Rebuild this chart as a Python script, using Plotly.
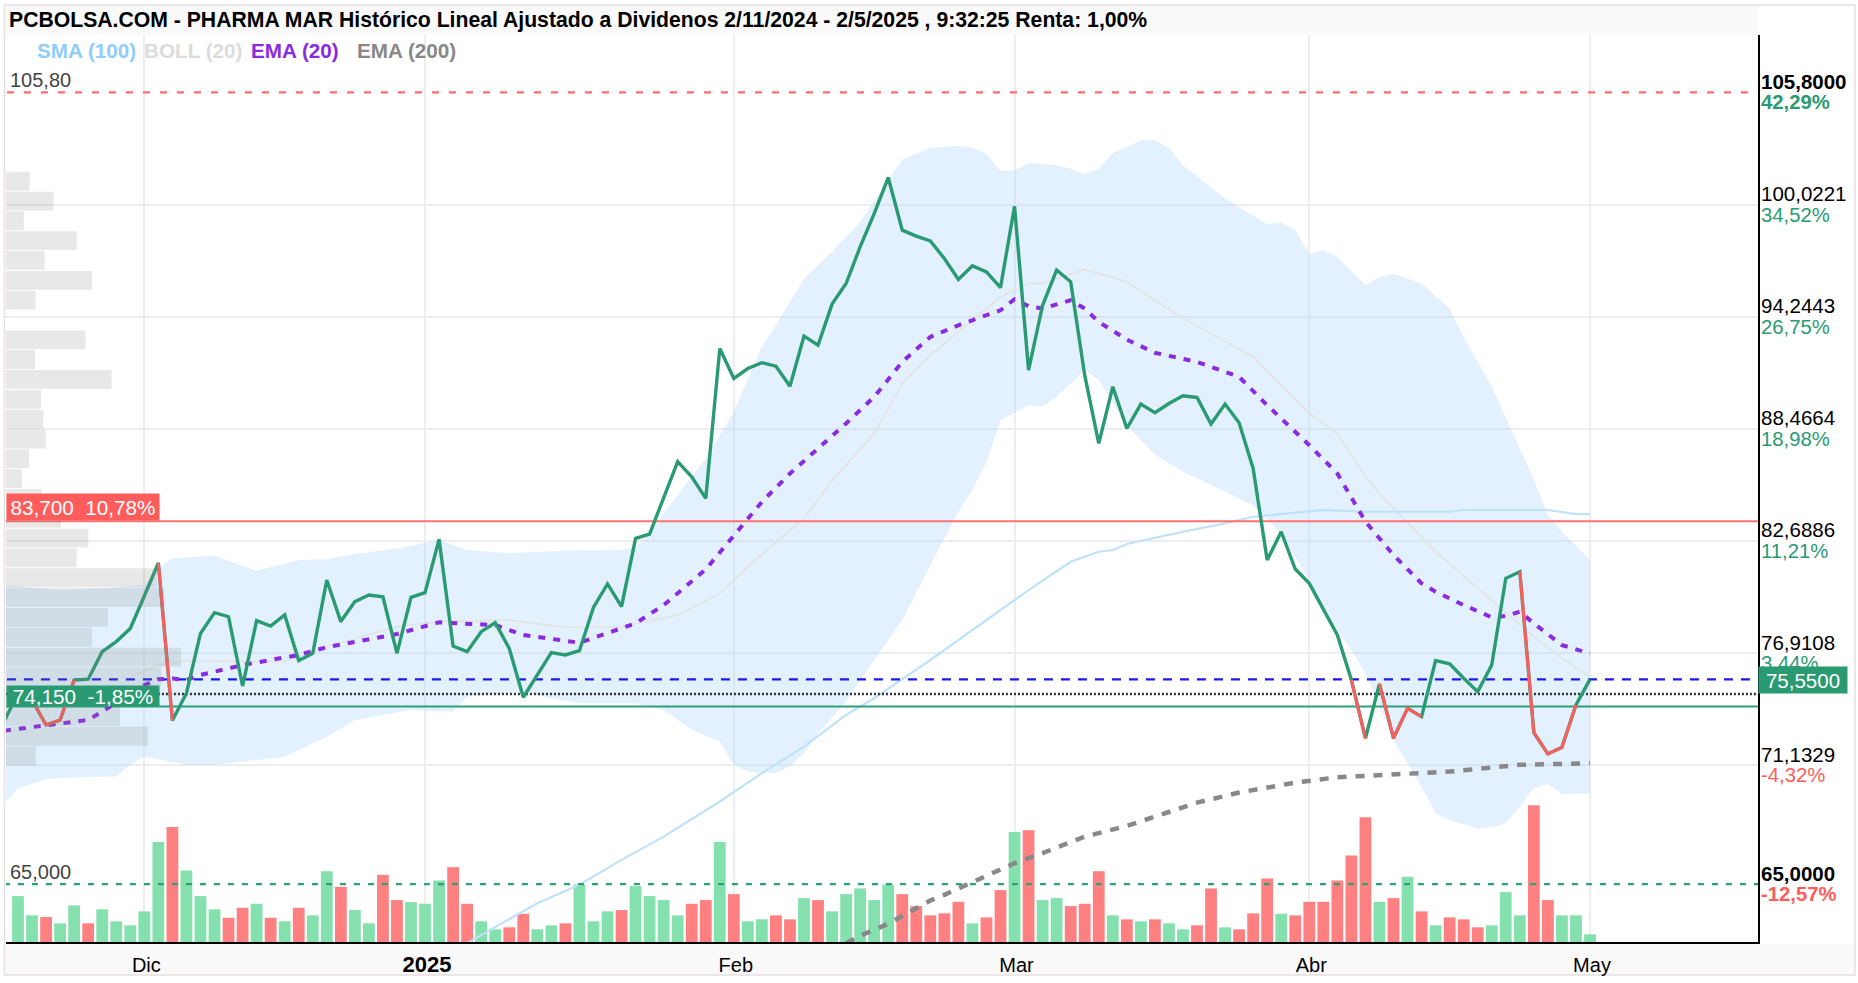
import plotly.graph_objects as go

FONT = "Liberation Sans"
GREEN = "#2a9a72"
RED = "#ff5c5c"

title_text = "PCBOLSA.COM - PHARMA MAR Histórico Lineal Ajustado a Dividenos 2/11/2024 - 2/5/2025 , 9:32:25 Renta: 1,00%"

month_pos = [9, 29, 51, 71, 92, 112]
month_labels = ["Dic", "<b><span style='font-size:22px'>2025</span></b>", "Feb", "Mar", "Abr", "May"]

# sessions are numbered -1 .. 112
price = [73.38, 74.83, 74.49, 73.20, 73.46, 75.52, 75.56, 76.98, 77.50, 78.18, 79.85, 81.56, 73.43, 74.84, 77.92,
         78.99, 78.78, 75.21, 78.58, 78.30, 78.87, 76.52, 76.89, 80.67, 78.53, 79.56, 79.90, 79.81, 76.89, 79.78,
         80.02, 82.77, 77.27, 76.98, 78.01, 78.47, 77.15, 74.63, 75.78, 76.93, 76.81, 77.03, 79.26, 80.47, 79.30,
         82.82, 83.04, 84.88, 86.77, 85.99, 84.88, 92.60, 91.06, 91.57, 91.87, 91.69, 90.66, 93.24, 92.77, 94.89,
         95.95, 97.84, 99.55, 101.41, 98.70, 98.39, 98.15, 97.24, 96.16, 96.86, 96.55, 95.74, 99.93, 91.49, 94.83,
         96.64, 96.04, 91.23, 87.71, 90.63, 88.48, 89.74, 89.29, 89.77, 90.17, 90.08, 88.71, 89.74, 88.78, 86.42,
         81.70, 83.16, 81.24, 80.50, 79.21, 77.84, 75.52, 72.52, 75.32, 72.52, 74.06, 73.63, 76.52, 76.35, 75.61,
         74.92, 76.29, 80.76, 81.10, 72.81, 71.71, 72.05, 74.23, 75.55]
sessions = list(range(-1, 113))
falling_runs = [(1, 4), (10, 11), (95, 96), (97, 100), (107, 111)]

volume = [46, 26.7, 25, 18.7, 36.7, 18.7, 32.7, 20.7, 16.7, 30.7, 100.3, 115.3, 71.7, 46, 32.7, 24.3, 34.3, 38.3, 24.3,
          20.7, 34.3, 26.7, 71, 55.3, 32, 18.7, 67.3, 42, 40, 38.3, 61.7, 75, 38.3, 20.7, 12.7, 14.7, 28.3, 12.7, 16.7,
          18.7, 57.7, 20.7, 30.7, 32, 56, 46, 42, 26.7, 38.3, 42, 100.3, 48, 20.7, 22.7, 26.7, 22.7, 44, 42, 30.7, 48,
          53.7, 42, 57.7, 48, 36, 26.7, 28.7, 40.3, 18.7, 24.7, 52, 110.3, 112, 42, 44, 36, 38.3, 71, 26.7, 22.7, 20.7,
          22.7, 18.7, 12.7, 16.7, 53.7, 14.7, 12.7, 28.7, 63.7, 28.3, 26.7, 40.3, 40.3, 61.7, 86.7, 125, 40.3, 44, 65.3,
          30.7, 16.7, 24.7, 22.7, 14.7, 16.7, 50, 26.7, 137, 42, 26.7, 26.7, 7.7]
volume_side = [
    "g","g","r","g","g","r","g","g","g","g","g","r","g","g","g","r","r","g","r","g","r","g","g","r","g","g",
    "r","r","g","g","g","r","r","g","g","r","r","g","g","r","g","g","g","r","g","g","g","g","r","r","g","r",
    "g","g","r","r","g","r","g","g","g","g","g","r","r","r","r","r","g","r","r","g","r","g","g","r","r","r",
    "g","r","g","r","g","g","r","r","g","r","r","r","g","r","r","r","r","r","r","g","r","g","r","g","r","r",
    "r","g","g","g","r","r","g","g","g"]

upper_x = [-1, 3, 6, 9, 10, 11, 14, 17, 20, 22, 24, 27, 30, 32, 35, 39, 43, 44, 45, 46, 47, 49, 51, 53, 54, 56, 58, 60,
           62, 63, 65, 67, 68, 69, 70, 71, 72, 74, 75, 76, 77, 78, 79, 80, 81, 82, 83, 86, 89, 90, 91, 92, 93, 94, 96,
           97, 98, 100, 102, 103, 105, 106, 107, 108, 109, 110, 112]
upper_y = [80.41, 80.15, 80.24, 80.41, 81.27, 81.79, 81.92, 81.15, 81.70, 81.74, 82.01, 82.30, 82.73, 82.22, 82.05,
           82.18, 82.22, 82.39, 83.07, 84.10, 85.05, 86.94, 89.34, 92.69, 93.80, 96.20, 97.58, 99.12, 101.27, 102.33,
           102.95, 103.04, 102.95, 102.61, 101.75, 101.79, 102.16, 102.04, 101.87, 101.58, 101.87, 102.68, 102.99,
           103.33, 103.33, 102.95, 102.04, 100.33, 99.00, 99.09, 98.69, 97.49, 97.66, 97.32, 95.86, 96.29, 96.46,
           95.95, 94.66, 93.20, 90.63, 89.08, 87.45, 85.82, 84.02, 83.16, 81.70]
lower_x = [-1, 0, 2, 4, 7, 8, 9, 12, 14, 17, 19, 22, 24, 28, 31, 32, 36, 38, 40, 44, 46, 48, 50, 51, 52, 54, 55, 56, 57,
           59, 61, 63, 65, 67, 68, 69, 70, 71, 72, 73, 74, 75, 76, 77, 79, 81, 83, 86, 88, 90, 92, 94, 95, 96, 98, 100,
           101, 102, 104, 105, 106, 107, 108, 109, 110, 112]
lower_y = [69.09, 69.95, 70.41, 70.51, 70.55, 71.15, 71.57, 71.15, 71.15, 71.40, 71.57, 72.60, 73.46, 73.98, 73.89,
           74.66, 74.92, 74.58, 74.32, 74.32, 73.98, 72.95, 72.35, 71.15, 70.80, 70.72, 71.06, 71.75, 72.78, 74.41,
           76.55, 78.61, 81.45, 84.19, 85.31, 86.77, 88.91, 89.29, 89.68, 89.63, 90.11, 90.80, 91.49, 90.97, 88.65,
           87.11, 86.25, 85.22, 84.53, 83.08, 80.67, 78.10, 77.07, 75.87, 72.43, 70.03, 68.66, 68.28, 67.88, 67.93,
           68.14, 69.00, 69.94, 70.17, 69.65, 69.69]
boll_x = [8, 10, 12, 15, 19, 22, 27, 30, 35, 39, 43, 47, 50, 52, 56, 58, 61, 63, 65, 68, 70, 72, 73, 76, 79, 83, 88, 92,
          94, 96, 97, 101, 105, 108, 110, 112]
boll_y = [75.69, 76.29, 76.52, 76.47, 76.47, 77.24, 78.27, 78.53, 78.61, 78.23, 78.27, 78.87, 79.98, 81.36, 83.85,
          85.79, 88.22, 90.80, 92.26, 94.06, 95.26, 95.95, 95.95, 96.67, 96.04, 94.15, 92.17, 89.25, 88.22, 85.99,
          85.13, 82.13, 79.64, 77.75, 76.64, 75.69]
ema20_x = [-1, 2, 5, 6, 8, 9, 10, 11, 12, 13, 16, 20, 22, 27, 30, 34, 36, 40, 44, 46, 49, 51, 53, 55, 59, 61, 63, 65, 67,
           69, 70, 71, 72, 73, 75, 76, 77, 79, 81, 84, 87, 89, 92, 94, 95, 96, 98, 100, 101, 103, 105, 106, 107, 108,
           110, 111, 112]
ema20_y = [72.91, 73.20, 73.46, 73.89, 74.84, 75.26, 75.56, 75.60, 75.52, 75.78, 76.29, 76.81, 77.21, 77.89, 78.49,
           78.35, 77.84, 77.44, 78.44, 79.38, 81.22, 82.99, 84.70, 86.16, 88.74, 90.11, 91.91, 93.20, 93.80, 94.32,
           94.57, 95.14, 94.78, 94.66, 95.09, 94.66, 93.97, 93.06, 92.38, 91.91, 91.14, 89.68, 87.62, 86.16, 84.96,
           83.68, 81.96, 80.50, 80.07, 79.38, 78.75, 78.82, 79.04, 78.44, 77.32, 77.10, 76.89]
sma100_x = [32, 34, 37, 40, 43, 46, 50, 53, 56, 59, 61, 65, 68, 72, 75, 77, 78, 79, 83, 86, 88, 90, 93, 96, 102, 103, 109,
            111, 112]
sma100_y = [61.96, 62.79, 64.02, 64.97, 66.25, 67.45, 69.26, 70.72, 72.09, 73.72, 74.58, 76.55, 78.11, 80.15, 81.61,
            82.13, 82.22, 82.53, 83.16, 83.59, 83.93, 84.07, 84.28, 84.19, 84.19, 84.28, 84.28, 84.07, 84.07]
ema200_x = [59, 60, 62, 65, 66, 69, 71, 73, 76, 79, 82, 84, 87, 91, 94, 98, 102, 107, 112]
ema200_y = [61.96, 62.34, 62.96, 64.16, 64.45, 65.40, 66.08, 66.60, 67.45, 68.00, 68.69, 69.20, 69.72, 70.23, 70.51,
            70.63, 70.80, 71.15, 71.23]

profile_levels = [101.22, 100.20, 99.18, 98.16, 97.14, 96.11, 95.09, 94.07, 93.05, 92.03, 91.01, 89.98, 88.96, 87.94,
                  86.92, 85.90, 84.88, 83.85, 82.83, 81.81, 80.79, 79.77, 78.75, 77.73, 76.70, 75.68, 74.66, 73.64,
                  72.62, 71.60]
profile_size = [23.7, 47.5, 17.8, 70.6, 38.6, 86, 29.7, 0, 79.5, 29, 105.6, 35, 37.4, 39.7, 23, 16, 35.6, 55, 82.4, 70.6,
                150.7, 158.4, 102, 86, 175, 155.4, 84, 113.9, 142.3, 29.7]

grid_prices = [100.0221, 94.2443, 88.4664, 82.6886, 76.9108, 71.1329]
axis_labels = [
    (105.80, "<b>105,8000</b>", "<b>42,29%</b>", GREEN),
    (100.0221, "100,0221", "34,52%", GREEN),
    (94.2443, "94,2443", "26,75%", GREEN),
    (88.4664, "88,4664", "18,98%", GREEN),
    (82.6886, "82,6886", "11,21%", GREEN),
    (76.9108, "76,9108", "3,44%", GREEN),
    (71.1329, "71,1329", "-4,32%", RED),
    (65.00, "<b>65,0000</b>", "<b>-12,57%</b>", RED),
]
level_upper_dash = 105.80
level_resistance = 83.70
level_last = 75.55
level_prev = 74.80
level_support = 74.15
level_lower_dash = 65.00

fig = go.Figure()

# volume, on the lower axis
fig.add_trace(go.Bar(x=sessions[1:], y=volume, width=0.84, yaxis="y", xaxis="x",
                     marker=dict(color=["#84e1ae" if s == "g" else "#ff8080" for s in volume_side], line_width=0)))

# Bollinger envelope
fig.add_trace(go.Scatter(x=upper_x + lower_x[::-1], y=upper_y + lower_y[::-1], fill="toself", mode="lines",
                         line=dict(width=0), fillcolor="rgba(173,216,250,0.35)", yaxis="y2", xaxis="x"))
fig.add_trace(go.Scatter(x=boll_x, y=boll_y, mode="lines", line=dict(color="#e2e2e2", width=1.5), yaxis="y2", xaxis="x"))
fig.add_trace(go.Scatter(x=sma100_x, y=sma100_y, mode="lines", line=dict(color="#bfe2fb", width=2.2), yaxis="y2", xaxis="x"))

# price levels
hx = [sessions[0] - 1, 130]
def level(y, color, width, dash):
    fig.add_trace(go.Scatter(x=hx, y=[y, y], mode="lines", line=dict(color=color, width=width, dash=dash),
                             yaxis="y2", xaxis="x"))
level(level_upper_dash, "#ff6b6b", 2.2, "7px,10px")
level(level_resistance, "#ff7070", 2, "solid")
level(level_support, "#2f9f78", 2, "solid")
level(level_last, "#1a1af0", 2.2, "9px,8px")
level(level_prev, "#333333", 2.5, "2px,2px")
level(level_lower_dash, "#2f9f78", 2.2, "6px,8px")

fig.add_trace(go.Scatter(x=ema200_x, y=ema200_y, mode="lines", line=dict(color="#888888", width=4.5, dash="9px,9px"),
                         yaxis="y2", xaxis="x"))
fig.add_trace(go.Scatter(x=ema20_x, y=ema20_y, mode="lines", line=dict(color="#8a2be2", width=4, dash="7px,8px"),
                         yaxis="y2", xaxis="x"))

# close
fig.add_trace(go.Scatter(x=sessions, y=price, mode="lines", line=dict(color=GREEN, width=3.4), yaxis="y2", xaxis="x"))
red_x, red_y = [], []
for a, b in falling_runs:
    red_x += sessions[a + 1:b + 2] + [None]
    red_y += price[a + 1:b + 2] + [None]
fig.add_trace(go.Scatter(x=red_x, y=red_y, mode="lines", line=dict(color=RED, width=3), yaxis="y2", xaxis="x"))

# volume by price
fig.add_trace(go.Bar(x=profile_size, y=profile_levels, orientation="h", width=0.97, xaxis="x3", yaxis="y2",
                     marker=dict(color="rgba(130,130,130,0.18)", line_width=0)))

ann = []
def text(x, y, s, size=20, color="black", **kw):
    ann.append(dict(x=x, y=y, text=s, showarrow=False, font=dict(family=FONT, size=size, color=color), **kw))

# pixel helpers for the furniture outside the plot
W0, W1, H0, H1 = 6, 1758, 35, 944
fx = lambda X: (X - W0) / (W1 - W0)
fy = lambda Y: (H1 - Y) / (H1 - H0)

text(fx(7), fy(20), "<b>%s</b>" % title_text, size=21.2, xref="paper", yref="paper", xanchor="left", yanchor="middle")
for X, s, c in [(35, "SMA (100)", "#90cdf9"), (142, "BOLL (20)", "#dcdcdc"), (249, "EMA (20)", "#8a2be2"), (355, "EMA (200)", "#888888")]:
    text(fx(X), fy(51), "<b>%s</b>" % s, size=20.7, color=c, xref="paper", yref="paper", xanchor="left", yanchor="middle")

for val, a, b, col in axis_labels:
    text(1, val, a, size=20.5, xref="paper", yref="y2", xanchor="left", yanchor="middle", xshift=1, yshift=11)
    text(1, val, b, size=20.3, color=col, xref="paper", yref="y2", xanchor="left", yanchor="middle", xshift=1, yshift=-10)

text(1, level_last, "75,5500", size=20.5, color="white", xref="paper", yref="y2", xanchor="left", yanchor="middle", xshift=0, yshift=-1,
     bgcolor=GREEN, width=88, height=26, align="center", borderpad=0)
text(0, level_resistance, "83,700\u00a0\u00a010,78%", size=20.7, color="white", xref="paper", yref="y2", xanchor="left", yanchor="bottom",
     bgcolor="#ff5c5c", width=152, height=26, align="center", borderpad=0)
text(0, level_support, "74,150\u00a0\u00a0-1,85%", size=20.7, color="white", xref="paper", yref="y2", xanchor="left", yanchor="bottom",
     bgcolor=GREEN, width=152, height=20, align="center", borderpad=0)
text(fx(8), level_upper_dash, "105,80", color="#444444", xref="paper", yref="y2", xanchor="left", yanchor="middle", yshift=12)
text(fx(8), level_lower_dash, "65,000", color="#444444", xref="paper", yref="y2", xanchor="left", yanchor="middle", yshift=12)

shapes = [
    dict(type="rect", xref="paper", yref="paper", x0=0, x1=1, y0=1, y1=fy(6), fillcolor="#f9f9f9", line_width=0, layer="below"),
    dict(type="rect", xref="paper", yref="paper", x0=0, x1=fx(1854), y0=fy(977), y1=fy(946), fillcolor="#f9f9f9", line_width=0, layer="below"),
    dict(type="rect", xref="paper", yref="paper", x0=fx(4.5), x1=fx(1855), y0=fy(977), y1=fy(5), line=dict(color="#e8dede", width=1.5),
         fillcolor="rgba(0,0,0,0)", layer="below"),
]

fig.update_layout(
    width=1858, height=983, autosize=False,
    margin=dict(l=W0, r=1858 - W1, t=H0, b=983 - H1, pad=0),
    paper_bgcolor="white", plot_bgcolor="white",
    showlegend=False, barmode="overlay", hovermode=False,
    font=dict(family=FONT, size=20, color="black"),
    annotations=ann, shapes=shapes,
    xaxis=dict(range=[-0.855, 123.97], tickmode="array", tickvals=month_pos, ticktext=month_labels,
               showgrid=True, gridcolor="#eeeeee", gridwidth=1.5, zeroline=False, showline=True, linecolor="black",
               linewidth=2, ticks="outside", ticklen=4, tickcolor="rgba(0,0,0,0)", ticklabelshift=2,
               tickfont=dict(size=20, family=FONT)),
    yaxis=dict(range=[0, 909], showgrid=False, zeroline=False, showticklabels=False, ticks=""),
    yaxis2=dict(range=[62.02, 108.756], overlaying="y", side="right", tickmode="array", tickvals=grid_prices,
                showticklabels=False, ticks="", showgrid=True, gridcolor="#eeeeee", gridwidth=2, zeroline=False,
                showline=True, linecolor="black", linewidth=2),
    xaxis3=dict(range=[0, 1752], overlaying="x", anchor="y2", visible=False, showgrid=False, zeroline=False),
)

fig.write_html("out.html", config=dict(displayModeBar=False),
               post_script="document.body.style.margin='0';document.body.style.overflow='hidden';")
